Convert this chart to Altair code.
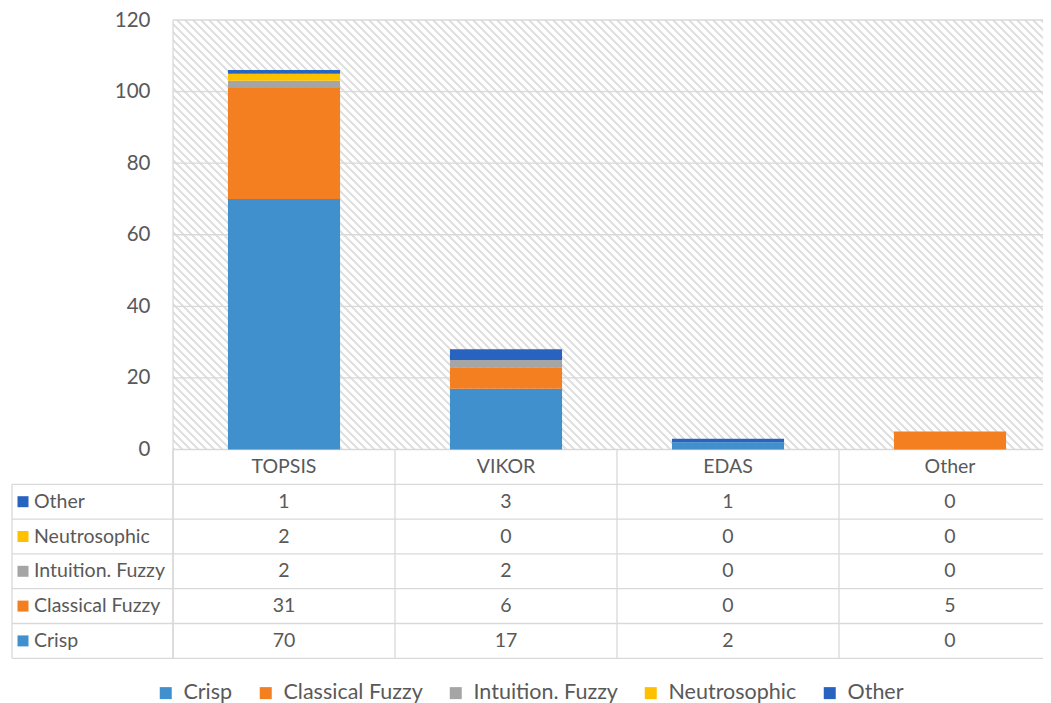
import math
import altair as alt
import pandas as pd

# ---------------- data ----------------
categories = ["TOPSIS", "VIKOR", "EDAS", "Other"]
series = ["Crisp", "Classical Fuzzy", "Intuition. Fuzzy", "Neutrosophic", "Other"]
crisp = [70, 17, 2, 0]
classical_fuzzy = [31, 6, 0, 5]
intuition_fuzzy = [2, 2, 0, 0]
neutrosophic = [2, 0, 0, 0]
other = [1, 3, 1, 0]
colors = ["#4190CE", "#F47F20", "#A5A5A5", "#FFC000", "#2763BF"]
y_ticks = [0, 20, 40, 60, 80, 100, 120]
table_rows = ["Other", "Neutrosophic", "Intuition. Fuzzy", "Classical Fuzzy", "Crisp"]
HDR = "hdr"

values_by_series = [crisp, classical_fuzzy, intuition_fuzzy, neutrosophic, other]

bars = pd.DataFrame(
    [
        {"category": c, "series": s, "idx": i, "value": vals[j]}
        for i, (s, vals) in enumerate(zip(series, values_by_series))
        for j, c in enumerate(categories)
    ]
)

cells = pd.DataFrame(
    [{"category": c, "row": HDR, "label": c} for c in categories]
    + [
        {"category": c, "row": s, "label": str(vals[j])}
        for s, vals in zip(series, values_by_series)
        for j, c in enumerate(categories)
    ]
)
row_labels = pd.DataFrame({"series": table_rows})
row_lines = pd.DataFrame({"row": [HDR] + table_rows})
col_lines = pd.DataFrame({"category": categories})
grid_df = pd.DataFrame({"tick": y_ticks})

# ---------------- layout / style ----------------
FONT = "Lato"
TXT = "#595959"
LINE = "#D9D9D9"
PLOT_H = 429.5
ROW_H = 34.8
TABLE_BOTTOM = PLOT_H + 6 * ROW_H
XW = 888
LABEL_COL = -161

# diagonal hatch drawn as a striped linear gradient
bw, bh = XW, PLOT_H
L = (bw + bh) / math.sqrt(2)
period = 8 / math.sqrt(2)
stripe = 0.4 * period
HATCH = "#E0E0E0"
stops = []
k = 0
while k * period < L:
    t0 = k * period / L
    t1 = min(1.0, (k * period + stripe) / L)
    t2 = min(1.0, (k + 1) * period / L)
    stops += [
        {"offset": t0, "color": HATCH},
        {"offset": t1, "color": HATCH},
        {"offset": t1, "color": "#FFFFFF"},
        {"offset": t2, "color": "#FFFFFF"},
    ]
    k += 1
v = (1.0, -bh / bw)
vv = v[0] ** 2 + v[1] ** 2
proj = lambda p: p[0] * v[0] + p[1] * v[1]
pmin, pmax = proj((0, 1)), proj((1, 0))
f = (pmax - pmin) / vv
gradient = {
    "gradient": "linear",
    "x1": 0,
    "y1": 1,
    "x2": v[0] * f,
    "y2": 1 + v[1] * f,
    "stops": stops,
}

yscale = alt.Scale(domain=[0, 120], range=[PLOT_H, 0], nice=False, zero=True)
tscale = alt.Scale(domain=[HDR] + table_rows, range=[PLOT_H, TABLE_BOTTOM],
                   paddingInner=0, paddingOuter=0)
xscale = alt.Scale(domain=categories, range=[0, XW], paddingInner=0, paddingOuter=0)
cscale = alt.Scale(domain=series, range=colors)

one = pd.DataFrame({"a": [0]})

hatch = alt.Chart(one).mark_rect(color=gradient).encode(
    x=alt.value(0), x2=alt.value(XW), y=alt.value(0), y2=alt.value(PLOT_H)
)

grid = alt.Chart(grid_df).mark_rule(color=LINE, strokeWidth=1.3).encode(
    y=alt.Y(
        "tick:Q",
        scale=yscale,
        axis=alt.Axis(
            values=y_ticks, domain=False, ticks=False, grid=False, title=None,
            labelFont=FONT, labelFontSize=20.5, labelColor=TXT, labelPadding=23,
        ),
    ),
    x=alt.value(0),
    x2=alt.value(XW),
)

bar_layer = alt.Chart(bars).mark_bar(width=alt.RelativeBandSize(0.505)).encode(
    x=alt.X("category:N", scale=xscale, axis=None, sort=categories),
    y=alt.Y("sum(value):Q", scale=yscale, axis=None, stack="zero"),
    color=alt.Color(
        "series:N",
        scale=cscale,
        sort=series,
        legend=alt.Legend(
            title=None, orient="none", direction="horizontal", legendX=-18,
            legendY=662, symbolType="square", symbolSize=144, symbolStrokeWidth=0,
            labelFont=FONT, labelFontSize=21.5, labelColor=TXT, columnPadding=22,
            labelOffset=7,
        ),
    ),
    order=alt.Order("idx:Q", sort="ascending"),
)

left_border = alt.Chart(one).mark_rule(color=LINE, strokeWidth=1.3).encode(
    x=alt.value(0), y=alt.value(0), y2=alt.value(TABLE_BOTTOM)
)

col_sep = alt.Chart(col_lines).mark_rule(color=LINE, strokeWidth=1.3).encode(
    x=alt.X("category:N", scale=xscale, axis=None, bandPosition=0),
    y=alt.value(PLOT_H),
    y2=alt.value(TABLE_BOTTOM),
)

label_col_line = alt.Chart(one).mark_rule(color=LINE, strokeWidth=1.3).encode(
    x=alt.value(LABEL_COL), y=alt.value(PLOT_H + ROW_H), y2=alt.value(TABLE_BOTTOM)
)

row_sep = alt.Chart(row_lines).mark_rule(color=LINE, strokeWidth=1.3).encode(
    y=alt.Y("row:N", scale=tscale, axis=None, bandPosition=1),
    x=alt.value(LABEL_COL),
    x2=alt.value(XW),
)

cell_text = alt.Chart(cells).mark_text(
    font=FONT, fontSize=19.5, color=TXT, baseline="middle", align="center"
).encode(
    x=alt.X("category:N", scale=xscale, axis=None),
    y=alt.Y("row:N", scale=tscale, axis=None),
    text="label:N",
)

row_text = alt.Chart(row_labels).mark_text(
    font=FONT, fontSize=19.5, color=TXT, baseline="middle", align="left"
).encode(
    x=alt.value(-139),
    y=alt.Y("series:N", scale=tscale, axis=None),
    text="series:N",
)

row_sq = alt.Chart(row_labels).mark_square(size=121, opacity=1).encode(
    x=alt.value(-150),
    y=alt.Y("series:N", scale=tscale, axis=None),
    color=alt.Color("series:N", scale=cscale, sort=series),
)

chart = (
    alt.layer(
        hatch, grid, bar_layer, left_border, col_sep, label_col_line, row_sep,
        cell_text, row_text, row_sq,
    )
    .resolve_scale(y="independent")
    .properties(
        width=870,
        height=650,
        autosize=alt.AutoSizeParams(type="none"),
        padding={"left": 165, "top": 12, "right": 0, "bottom": 33},
    )
    .configure_view(stroke=None)
)

chart.save("out.html", embed_options={"renderer": "svg", "actions": False})
